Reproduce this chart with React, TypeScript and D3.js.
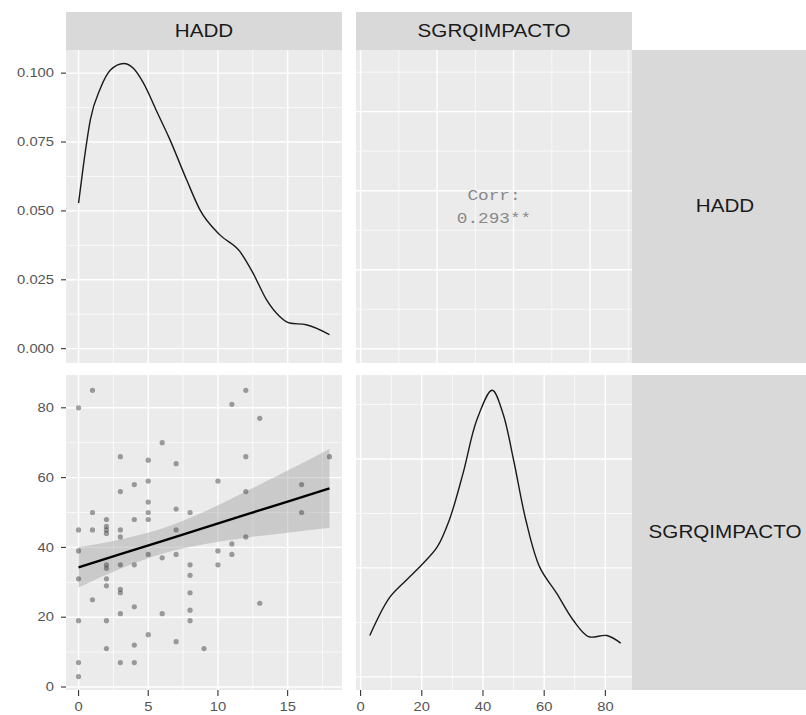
import React from 'react';
import * as d3 from 'd3';

const W = 806;
const H = 715;

const variables = ['HADD', 'SGRQIMPACTO'];

// scatter points: HADD (x) against SGRQIMPACTO (y)
const haddValues = [
  0, 0, 0, 0, 0, 0, 0,
  1, 1, 1, 1,
  2, 2, 2, 2, 2, 2, 2, 2, 2, 2,
  3, 3, 3, 3, 3, 3, 3, 3, 3,
  4, 4, 4, 4, 4, 4,
  5, 5, 5, 5, 5, 5, 5,
  6, 6, 6,
  7, 7, 7, 7, 7,
  8, 8, 8, 8, 8, 8,
  9,
  10, 10, 10,
  11, 11, 11,
  12, 12, 12, 12,
  13, 13,
  16, 16,
  18,
];
const sgrqValues = [
  80, 45, 39, 31, 19, 7, 3,
  85, 50, 45, 25,
  48, 46, 45, 44, 35, 34, 31, 29, 19, 11,
  66, 56, 45, 43, 35, 28, 27, 21, 7,
  58, 48, 35, 23, 12, 7,
  65, 59, 53, 50, 48, 38, 15,
  70, 37, 21,
  64, 51, 45, 38, 13,
  50, 35, 32, 27, 22, 19,
  11,
  59, 39, 35,
  81, 41, 38,
  85, 66, 56, 43,
  77, 24,
  58, 50,
  66,
];

// density of HADD (diagonal, top-left)
const haddDensX = [0, 0.38, 0.86, 1.57, 2.29, 3.24, 3.95, 4.67, 5.62, 6.5, 7.76, 8.71, 10.14, 11.57, 12.52, 13.48, 14.43, 15.14, 16.33, 18];
const haddDensY = [0.0528, 0.0677, 0.0834, 0.0945, 0.1011, 0.1035, 0.1017, 0.0963, 0.086, 0.0765, 0.0612, 0.0504, 0.0413, 0.0353, 0.0274, 0.0178, 0.0117, 0.0093, 0.0087, 0.0051];

// density of SGRQIMPACTO (diagonal, bottom-right)
const sgrqDensX = [3, 9.5, 15, 20, 25, 29, 33.5, 38, 43, 46.5, 50, 54, 58.5, 64, 69.5, 74.5, 80.5, 85];
const sgrqDensY = [0.0038, 0.0073, 0.0089, 0.0103, 0.0119, 0.0144, 0.0187, 0.0236, 0.0263, 0.0242, 0.0199, 0.0144, 0.0101, 0.0077, 0.0052, 0.0037, 0.0038, 0.0031];

// linear fit with confidence band
const fitX = [0, 3, 6, 9, 12, 15, 18];
const fitY = [34.3, 38.1, 41.8, 45.6, 49.4, 53.1, 56.9];
const fitLow = [28.5, 33.9, 38.2, 40.9, 42.8, 44.2, 45.6];
const fitHigh = [40.1, 42.3, 45.4, 50.2, 56.0, 62.0, 68.2];

const corrLabel = 'Corr:';
const corrValue = '0.293**';

const haddTicks = [0, 5, 10, 15];
const sgrqTicks = [0, 20, 40, 60, 80];
const haddDensTicks = [0, 0.025, 0.05, 0.075, 0.1];
const sgrqDensTicks = [0, 0.01, 0.02];
const corrXTicks = [0, 25, 50, 75];

// layout
const cols = [[66, 342], [356, 632]];
const rows = [[50, 363], [375, 690]];
const stripTop = [12, 50];
const stripRight = [632, 806];
const SX = 1.18; // the picture is stretched sideways

const haddX = d3.scaleLinear().domain([-0.9, 18.9]).range(cols[0]);
const sgrqX = d3.scaleLinear().domain([-1.5, 88.7]).range(cols[1]);
const haddDensScale = d3.scaleLinear().domain([-0.0052, 0.1084]).range([rows[0][1], rows[0][0]]);
const sgrqY = d3.scaleLinear().domain([-0.86, 89.4]).range([rows[1][1], rows[1][0]]);
const sgrqDensScale = d3.scaleLinear().domain([-0.0012, 0.0277]).range([rows[1][1], rows[1][0]]);
const haddYCorr = d3.scaleLinear().domain([-0.9, 18.9]).range([rows[0][1], rows[0][0]]);

function minorOf(major: number[], domain: number[]) {
  const step = major[1] - major[0];
  const out: number[] = [];
  for (let v = major[0] - step / 2; v <= domain[1]; v += step) {
    if (v >= domain[0]) out.push(v);
  }
  return out;
}

function Txt({ x, y, size, anchor = 'middle', fill = '#1a1a1a', family = "'Liberation Sans', Arial, sans-serif", children }: any) {
  return (
    <text
      transform={`translate(${x},${y}) scale(${SX},1)`}
      fontSize={size}
      fontFamily={family}
      textAnchor={anchor}
      dominantBaseline="central"
      fill={fill}
    >
      {children}
    </text>
  );
}

function Panel({ xs, ys, xMajor, yMajor }: any) {
  const [x0, x1] = xs.range();
  const [y1, y0] = ys.range();
  const xMinor = minorOf(xMajor, xs.domain());
  const yMinor = minorOf(yMajor, ys.domain());
  return (
    <g>
      <rect x={x0} y={y0} width={x1 - x0} height={y1 - y0} fill="#ebebeb" />
      {yMinor.map((v, i) => (
        <line key={'ym' + i} x1={x0} x2={x1} y1={ys(v)} y2={ys(v)} stroke="#fff" strokeWidth={0.7} />
      ))}
      {xMinor.map((v, i) => (
        <line key={'xm' + i} x1={xs(v)} x2={xs(v)} y1={y0} y2={y1} stroke="#fff" strokeWidth={0.7} />
      ))}
      {yMajor.map((v: number, i: number) => (
        <line key={'yM' + i} x1={x0} x2={x1} y1={ys(v)} y2={ys(v)} stroke="#fff" strokeWidth={1.4} />
      ))}
      {xMajor.map((v: number, i: number) => (
        <line key={'xM' + i} x1={xs(v)} x2={xs(v)} y1={y0} y2={y1} stroke="#fff" strokeWidth={1.4} />
      ))}
    </g>
  );
}

function LeftAxis({ ys, ticks, fmt }: any) {
  const x = cols[0][0];
  return (
    <g>
      {ticks.map((v: number, i: number) => (
        <g key={i}>
          <line x1={x - 5} x2={x} y1={ys(v)} y2={ys(v)} stroke="#333" strokeWidth={1.1} />
          <Txt x={x - 12} y={ys(v)} size={12.5} anchor="end" fill="#555">{fmt(v)}</Txt>
        </g>
      ))}
    </g>
  );
}

function BottomAxis({ xs, ticks }: any) {
  const y = rows[1][1];
  return (
    <g>
      {ticks.map((v: number, i: number) => (
        <g key={i}>
          <line x1={xs(v)} x2={xs(v)} y1={y} y2={y + 6} stroke="#333" strokeWidth={1.1} />
          <Txt x={xs(v)} y={y + 17} size={12.5} fill="#555">{v}</Txt>
        </g>
      ))}
    </g>
  );
}

export default function App() {
  const haddLine = d3.line<number>()
    .x((_, i) => haddX(haddDensX[i]))
    .y((d) => haddDensScale(d))
    .curve(d3.curveMonotoneX)(haddDensY);

  const sgrqLine = d3.line<number>()
    .x((_, i) => sgrqX(sgrqDensX[i]))
    .y((d) => sgrqDensScale(d))
    .curve(d3.curveCatmullRom)(sgrqDensY);

  const band = d3.area<number>()
    .x((d) => haddX(d))
    .y0((_, i) => sgrqY(fitLow[i]))
    .y1((_, i) => sgrqY(fitHigh[i]))
    .curve(d3.curveMonotoneX)(fitX);

  const fitLine = d3.line<number>()
    .x((d) => haddX(d))
    .y((_, i) => sgrqY(fitY[i]))(fitX);

  const colMid = cols.map((c) => (c[0] + c[1]) / 2);
  const rowMid = rows.map((r) => (r[0] + r[1]) / 2);
  const stripRightMid = 725;

  return (
    <svg width={W} height={H} style={{ position: 'absolute', left: 0, top: 0, background: '#fff' }}>
      {/* top strips */}
      {variables.map((v, i) => (
        <g key={'st' + v}>
          <rect x={cols[i][0]} y={stripTop[0]} width={cols[i][1] - cols[i][0]} height={stripTop[1] - stripTop[0]} fill="#d9d9d9" />
          <Txt x={colMid[i]} y={(stripTop[0] + stripTop[1]) / 2} size={17.5}>{v}</Txt>
        </g>
      ))}
      {/* right strips */}
      {variables.map((v, i) => (
        <g key={'sr' + v}>
          <rect x={stripRight[0]} y={rows[i][0]} width={stripRight[1] - stripRight[0]} height={rows[i][1] - rows[i][0]} fill="#d9d9d9" />
          <Txt x={stripRightMid} y={rowMid[i]} size={17.5}>{v}</Txt>
        </g>
      ))}

      {/* HADD density */}
      <Panel xs={haddX} ys={haddDensScale} xMajor={haddTicks} yMajor={haddDensTicks} />
      <path d={haddLine || ''} fill="none" stroke="#1a1a1a" strokeWidth={1.4} />

      {/* correlation */}
      <Panel xs={sgrqX} ys={haddYCorr} xMajor={corrXTicks} yMajor={haddTicks} />
      <Txt x={colMid[1]} y={rowMid[0] - 11} size={15} fill="#888" family="'Liberation Mono', 'Courier New', monospace">{corrLabel}</Txt>
      <Txt x={colMid[1]} y={rowMid[0] + 12} size={15} fill="#888" family="'Liberation Mono', 'Courier New', monospace">{corrValue}</Txt>

      {/* scatter with fit */}
      <Panel xs={haddX} ys={sgrqY} xMajor={haddTicks} yMajor={sgrqTicks} />
      <path d={band || ''} fill="#999" fillOpacity={0.4} />
      {haddValues.map((h, i) => (
        <circle key={'p' + i} cx={haddX(h)} cy={sgrqY(sgrqValues[i])} r={2.6} fill="#333" fillOpacity={0.45} />
      ))}
      <path d={fitLine || ''} fill="none" stroke="#000" strokeWidth={2.4} />

      {/* SGRQIMPACTO density */}
      <Panel xs={sgrqX} ys={sgrqDensScale} xMajor={sgrqTicks} yMajor={sgrqDensTicks} />
      <path d={sgrqLine || ''} fill="none" stroke="#1a1a1a" strokeWidth={1.4} />

      <LeftAxis ys={haddDensScale} ticks={haddDensTicks} fmt={d3.format('.3f')} />
      <LeftAxis ys={sgrqY} ticks={sgrqTicks} fmt={(v: number) => String(v)} />
      <BottomAxis xs={haddX} ticks={haddTicks} />
      <BottomAxis xs={sgrqX} ticks={sgrqTicks} />
    </svg>
  );
}
